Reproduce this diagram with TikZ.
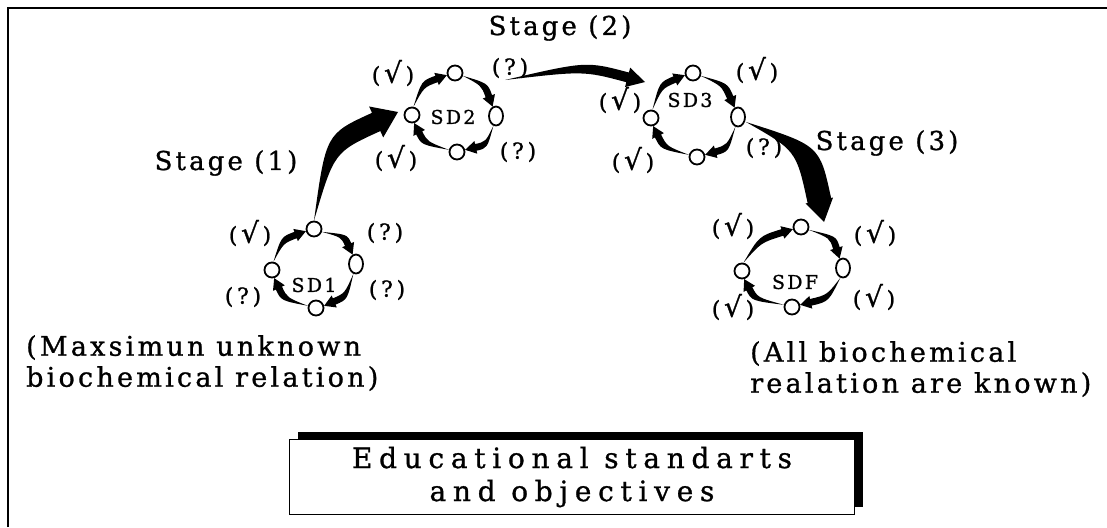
\documentclass[tikz,border=0pt]{standalone}
\usepackage{fontspec}
\setmainfont{DejaVu Serif}[LetterSpace=12, FakeBold=1]
\newfontfamily\widefont{DejaVu Serif}[LetterSpace=24, FakeBold=1]
\usetikzlibrary{calc, shapes.geometric, shadows}
\tikzset{
site/.style={circle, draw, line width=1.8pt, minimum size=15pt, inner sep=0pt}, % a small member of a ring
oval/.style={ellipse, draw, line width=1.8pt, minimum width=14pt, minimum height=19pt, inner sep=0pt}, % the taller right member
chk/.style={font=\fontsize{22}{24}\selectfont, inner sep=0pt}, % the (?) and (√) marks
sdname/.style={font=\fontsize{19}{21}\selectfont, inner sep=0pt},
stagename/.style={font=\fontsize{26}{28}\selectfont, inner sep=0pt},
note/.style={font=\fontsize{27}{31}\selectfont, align=left, anchor=north west, inner sep=0pt},
goalbox/.style={draw, fill=white, line width=1.2pt, minimum width=565pt, minimum height=75pt, align=center,
  font=\widefont\fontsize{28}{33}\selectfont, drop shadow={shadow xshift=8pt, shadow yshift=8pt, fill=black, opacity=1}},
}
\newcommand{\known}{(\,{\fontsize{28}{28}\selectfont √}\,)} % a known relation
\newcommand{\unknown}{(\,?\,)} % an unknown relation
% tapered arrow: from, tip, control, body half width, head half width, head length
\newcommand{\taper}[6]{%
  \path (#2) coordinate (tp-t) ($(#2)!#6!(#3)$) coordinate (tp-b);
  \path ($(tp-b)!#4!90:(tp-t)$) coordinate (tp-b1) ($(tp-b)!#4!-90:(tp-t)$) coordinate (tp-b2)
        ($(tp-b)!#5!90:(tp-t)$) coordinate (tp-h1) ($(tp-b)!#5!-90:(tp-t)$) coordinate (tp-h2)
        ($(#3)!#4!90:(tp-t)$) coordinate (tp-c1) ($(#3)!#4!-90:(tp-t)$) coordinate (tp-c2);
  \fill (#1) .. controls (tp-c1) .. (tp-b1) -- (tp-h1) -- (tp-t) -- (tp-h2) -- (tp-b2) .. controls (tp-c2) .. (#1) -- cycle;
}
% one arrow of a ring: from, to, centre of the ring
\newcommand{\ring}[3]{%
  \path ($(#1)!0.5!(#2)$) coordinate (rg-m);
  \path ($(#3)!1.3!(rg-m)$) coordinate (rg-c);
  \taper{#1}{#2}{rg-c}{3.4pt}{6.5pt}{11pt}
}
% the four arrows of ring #1 (nodes #1t, #1r, #1b, #1l round centre #2)
\newcommand{\fourarrows}[2]{%
  \ring{#1t.-20}{#1r.110}{#2}
  \ring{#1r.-105}{#1b.15}{#2}
  \ring{#1b.165}{#1l.-75}{#2}
  \ring{#1l.80}{#1t.195}{#2}
}
\begin{document}
\begin{tikzpicture}[x=1pt, y=-1pt]
\useasboundingbox (0,0) rectangle (1107,527);
\draw[line width=1.5pt] (8,527) -- (8,8) -- (1107,8);

% ring SD1
\coordinate (c1) at (314,268);
\node[site] (s1t) at (314,229) {};
\node[oval] (s1r) at (356,264) {};
\node[site] (s1b) at (316,308) {};
\node[site] (s1l) at (272,270) {};
\node[sdname] (sd1) at (314,285) {SD1};
\fourarrows{s1}{c1}
\node[chk] (q1a) at (250,233) {\known};
\node[chk] (q1b) at (385,233) {\unknown};
\node[chk] (q1c) at (387,290) {\unknown};
\node[chk] (q1d) at (243,297) {\unknown};

% ring SD2
\coordinate (c2) at (455,114);
\node[site] (s2t) at (455,73) {};
\node[oval] (s2r) at (496,116) {};
\node[site] (s2b) at (457,152) {};
\node[site] (s2l) at (412,115) {};
\node[sdname] (sd2) at (453,117) {SD2};
\fourarrows{s2}{c2}
\node[chk] (q2a) at (393,73) {\known};
\node[chk] (q2b) at (510,68) {\unknown};
\node[chk] (q2c) at (518,152) {\unknown};
\node[chk] (q2d) at (396,158) {\known};

% ring SD3
\coordinate (c3) at (695,116);
\node[site] (s3t) at (693,73) {};
\node[oval] (s3r) at (738,117) {};
\node[site] (s3b) at (697,157) {};
\node[site] (s3l) at (651,118) {};
\node[sdname] (sd3) at (690,100) {SD3};
\fourarrows{s3}{c3}
\node[chk] (q3a) at (757,70) {\known};
\node[chk] (q3b) at (764,148) {\unknown};
\node[chk] (q3c) at (633,160) {\known};
\node[chk] (q3d) at (620,100) {\known};

% ring SDF
\coordinate (c4) at (795,268);
\node[site] (sft) at (801,227) {};
\node[oval] (sfr) at (843,268) {};
\node[site] (sfb) at (792,307) {};
\node[site] (sfl) at (742,271) {};
\node[sdname] (sdf) at (795,282) {SDF};
\fourarrows{sf}{c4}
\node[chk] (q4a) at (733,226) {\known};
\node[chk] (q4b) at (875,233) {\known};
\node[chk] (q4c) at (874,297) {\known};
\node[chk] (q4d) at (733,307) {\known};

% stages
\coordinate (tip1) at (398,112);
\coordinate (from2) at (505,80);
\coordinate (tip2) at (645,82);
\coordinate (from3) at (746,122);
\coordinate (tip3) at (824,222);
\taper{s1t.north}{tip1}{330,143}{10pt}{17pt}{24pt}
\taper{from2}{tip2}{585,66}{5pt}{10pt}{18pt}
\taper{from3}{tip3}{808,148}{12pt}{14pt}{22pt}
\node[stagename] (st1) at (226,163) {Stage (1)};
\node[stagename] (st2) at (560,28) {Stage (2)};
\node[stagename] (st3) at (887,143) {Stage (3)};

\node[note] (left) at (26,335) {(Maxsimun unknown\\biochemical relation)};
\node[note] (right) at (750,341) {(All biochemical\\realation are known)};
\node[goalbox] (goal) at (572,477) {Educational standarts\\and objectives};
\end{tikzpicture}
\end{document}
